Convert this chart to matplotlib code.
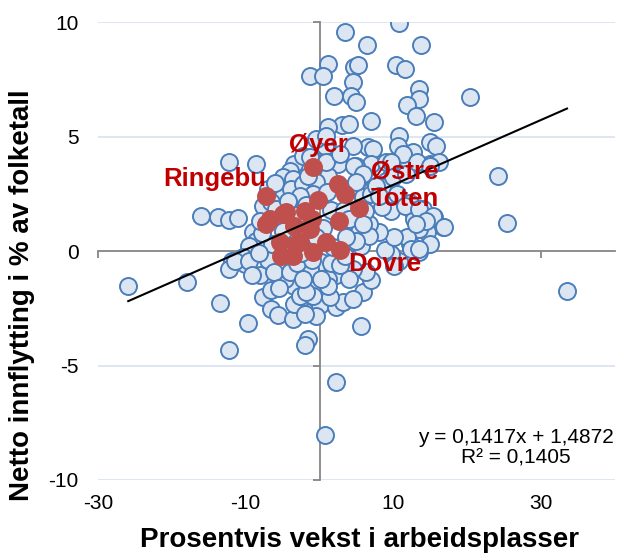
import numpy as np
import matplotlib
matplotlib.use("Agg")
import matplotlib.pyplot as plt

plt.rcParams['font.family'] = ['Liberation Sans', 'DejaVu Sans']
plt.rcParams['axes.unicode_minus'] = False

# ---- data ----
blue_x = [3.4, 10.7, 6.4, 13.7, 1.1, 4.7, 5.2, 10.4, 11.6, -1.35, 0.45, 4.5, 2.0, 4.3, 4.95,
          13.5, 13.5, 11.8, 20.3, 13.0, 15.5, 6.9, 3.0, 4.05, 1.2, 10.8, 10.6, 14.9, 15.7, 12.6,
          6.5, 7.2, 4.5, 14.9, 9.9, 11.3, 7.0, 4.95, 24.1, 25.4, 16.7, 16.2, 11.3, 9.0, 9.7,
          10.4, 2.5, 0.7, 5.4, 9.0, 7.6, 1.1, 4.5, 5.85, 15.8, 12.6, 1.8, 0.7, -0.45, 0.9,
          -12.2, -8.6, -16.0, -13.7, -12.2, -11.0, -9.0, -8.6, -9.5, -25.9, -18.0, -13.5, -9.7,
          -12.3, -1.6, -2.0, 2.2, 0.8, -11.9, -10.4, -10.1, -12.2, -11.5, -9.5, -8.1, -9.1, -7.7,
          -6.6, -6.6, -5.6, -3.6, -3.4, -3.4, -2.3, -0.7, 0.0, 2.2, 2.2, -4.7, -2.7, 0.7, 0.2,
          -4.5, -1.35, 33.5, 5.6, 5.9, 3.15, -0.45, -2.0, 7.0, 6.3, 4.5, 4.05, 1.1, -0.45, -0.9,
          -1.8, 10.8, 9.7, 12.2, 13.5, 14.6, 10.1, 4.5, 1.35, 1.1, 0.2, 5.6, 8.8, 4.05, 4.95,
          -3.4, -4.05, -4.95, -3.6, -5.4, -3.8, -2.3, -0.45, -0.9, -2.7, -7.7, -6.6, -5.9, -2.3,
          -1.35, 0.9, 7.0, 8.5, 10.5, 12.3, 14.0, 15.5, 13.5, 11.9, 10.1, 8.1, 6.75, 5.4, 4.3,
          6.1, 9.7, 12.8, 15.0, -7.0, -6.2, -5.5, -4.0, -3.0, -2.2, -1.0, 1.5, 2.8, 3.5, -6.5,
          -7.8, -8.2, -2.5, -8.0, -7.0, -6.0, -4.3, -3.0, -1.8, -5.0, -2.5, -1.5, 1.0, 1.5, 0.5,
          -0.5, 3.3, 1.8, 2.7, 4.7, 5.9, 4.95, 9.7, 9.9, 11.7, 13.2, 14.9, 11.5, 13.5, 15.3,
          16.9, 14.4, 13.0, 12.4, 13.5, 6.75, 4.95, 3.6, 7.6, 8.5, 8.1, 4.05, 5.85]
blue_y = [9.56, 9.97, 9.02, 9.0, 8.18, 8.05, 8.13, 8.15, 7.96, 7.64, 7.67, 7.38, 6.8, 6.8, 6.5,
          7.09, 6.65, 6.39, 6.75, 5.9, 5.63, 5.68, 5.5, 5.56, 5.41, 5.05, 4.61, 4.76, 4.61, 4.32,
          4.54, 4.47, 4.61, 3.81, 3.89, 3.89, 3.81, 3.74, 3.3, 1.24, 1.05, 3.89, 4.25, 3.89, 3.3,
          3.45, 3.81, 3.89, 3.16, 3.08, 2.86, 3.3, 2.79, 2.36, 1.19, 1.7, 4.25, 4.61, 4.9, 5.05,
          3.89, 3.81, 1.55, 1.5, 1.38, 1.45, 0.83, 0.46, 0.24, -1.5, -1.35, -2.26, -3.14,
          -4.3, -3.83, -4.12, -5.72, -8.05, -0.41, -0.26, -0.55, -0.77, -0.45, -0.41, -1.06, -1.06, -2.0,
          -1.69, -2.52, -2.81, -2.96, -2.33, -1.5, -2.0, -2.0, -2.37, -2.45, -1.06, -1.21, -1.94, -1.14, -0.48,
          -0.77, -0.77, -1.72, -3.28, -1.79, -2.23, -2.84, -2.74, -1.28, -0.92, -0.77, -1.21, -1.21, -1.65, -1.94,
          -1.79, -0.41, -0.12, 0.32, -0.04, 0.83, -0.63, -2.08, -2.0, -1.5, -1.21, 0.24, 0.03, 0.68, 0.83,
          3.81, 3.52, 3.23, 3.16, 2.65, 2.72, 2.94, 3.01, 2.5, 2.43, 1.99, 2.14, 1.85, 4.17,
          4.1, 3.89, 2.5, 2.8, 2.5, 2.1, 1.85, 1.5, 0.95, 0.6, 0.6, 0.85, 1.19, 0.85, 1.6,
          1.75, 1.75, 1.4, 0.3, -0.4, -0.9, -1.6, -0.9, -0.5, -1.2, -0.4, -0.5, -0.6, -0.2, 0.3,
          0.8, -0.1, -0.1, 1.3, 2.7, 3.0, 2.2, 1.6, 2.0, 0.9, 0.8, 3.3, 2.6, 1.8, 1.0,
          0.6, 1.8, 0.2, 4.25, 3.74, 3.37, 3.01, 3.89, 3.24, 3.37, 3.89, 3.74, 1.99, 1.85, 1.55,
          1.05, 1.34, 1.19, 0.1, 0.1, 0.68, 0.46, 0.61, 2.86, 1.94, 2.43, 1.41, 1.19]

red_x = [-7.3, -0.9, 2.5, 3.4, 5.4, 2.6, -0.2, -2.0, -4.95, -6.75, -4.5, -7.2, -5.4, -3.15,
         -5.2, -3.6, -0.9, 0.9, -1.35, 2.7, -2.7, -1.0, -3.5]
red_y = [2.43, 3.67, 2.94, 2.5, 1.88, 1.3, 2.25, 1.77, 1.63, 1.41, 1.7, 1.19, 0.39, 0.32,
         -0.19, -0.19, -0.04, 0.39, 0.97, 0.03, 0.39, 1.4, 1.1]

labels = ["Ringebu", "Øyer", "Østre\nToten", "Dovre"]
label_x = [-21.2, -4.2, 6.9, 3.9]
label_y = [2.86, 4.32, 1.99, -0.85]

slope, intercept, r2 = 0.1417, 1.4872, 0.1405
xticks = [-30, -10, 10, 30]
yticks = [-10, -5, 0, 5, 10]

# ---- figure ----
fig = plt.figure(figsize=(6.2, 5.54), dpi=100)
ax = fig.add_axes([0.158, 0.1336, 0.834, 0.826])
ax.set_xlim(-30, 40)
ax.set_ylim(-10, 10)

for yv in yticks:
    if yv != 0:
        ax.axhline(yv, color='#dbe4f1', lw=1.3, zorder=0)

ax.scatter(blue_x, blue_y, s=150, facecolor='#dce6f2', edgecolor='#4a7ebb',
           linewidth=1.4, zorder=3)
ax.scatter(red_x, red_y, s=150, facecolor='#c0504d', edgecolor='#c0504d',
           linewidth=1.4, zorder=4)

all_x = np.array(blue_x + red_x)
xl = np.array([all_x.min(), all_x.max()])
ax.plot(xl, slope * xl + intercept, color='black', lw=1.5, zorder=5)

for t, x, y in zip(labels, label_x, label_y):
    ax.text(x, y, t, color='#c00000', fontsize=18.5, fontweight='bold',
            ha='left', va='baseline', zorder=6, linespacing=1.15)

eq = f"y = {slope:.4f}x + {intercept:.4f}".replace('.', ',') + "\n" + \
     f"R² = {r2:.4f}".replace('.', ',')
ax.text(26.6, -9.29, eq, fontsize=15, ha='center', va='baseline',
        multialignment='center', linespacing=1.1, zorder=6)

# spines through zero
for s in ['top', 'right']:
    ax.spines[s].set_visible(False)
ax.spines['left'].set_position(('data', 0))
ax.spines['bottom'].set_position(('data', 0))
for s in ['left', 'bottom']:
    ax.spines[s].set_color('#868686')
    ax.spines[s].set_linewidth(1.3)
    ax.spines[s].set_zorder(1)
ax.set_xticks(xticks)
ax.set_yticks(yticks)
ax.tick_params(axis='both', direction='out', length=5, width=1.3, color='#868686',
               labelleft=False, labelbottom=False)

# tick labels at plot edges
secy = ax.secondary_yaxis('left')
secy.set_yticks(yticks)
secy.tick_params(length=0, pad=14, labelsize=15)
secy.spines['left'].set_visible(False)
secx = ax.secondary_xaxis('bottom')
secx.set_xticks(xticks)
secx.tick_params(length=0, pad=10, labelsize=15)
secx.spines['bottom'].set_visible(False)

fig.text(360 / 620, 1 - 540 / 554, "Prosentvis vekst i arbeidsplasser",
         fontsize=20, fontweight='bold', ha='center', va='center')
fig.text(22 / 620, 1 - 295 / 554, "Netto innflytting i % av folketall",
         fontsize=20, fontweight='bold', ha='center', va='center', rotation=90)

fig.savefig("out.png", dpi=100)
